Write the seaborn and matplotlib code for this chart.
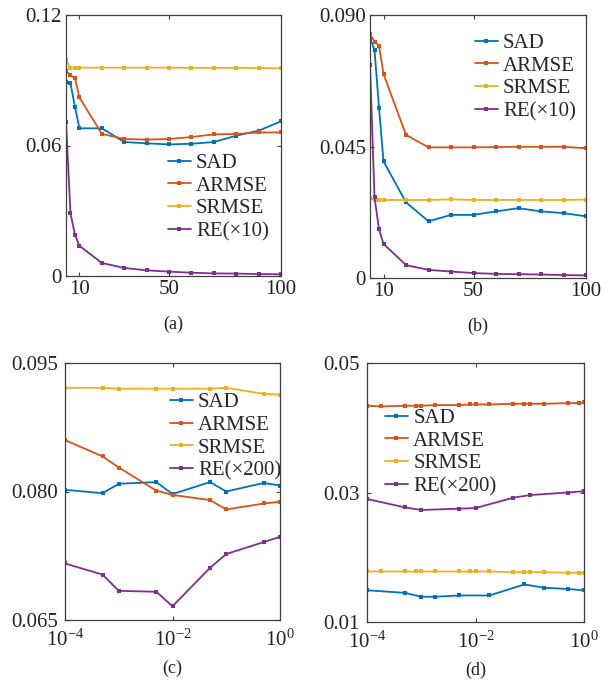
import numpy as np
import pandas as pd
import matplotlib
matplotlib.use("Agg")
import matplotlib.pyplot as plt
import seaborn as sns

# series labels and colours (MATLAB default order)
names = ["SAD", "ARMSE", "SRMSE"]
colors = ["#0072BD", "#D95319", "#EDB120", "#7E2F8E"]

# (a) / (b): number of ... on a linear axis
ab_x = [4, 6, 8, 10, 20, 30, 40, 50, 60, 70, 80, 90, 100]
a_sad = [0.0893, 0.0886, 0.0778, 0.0679, 0.0679, 0.0616, 0.0610, 0.0605, 0.0608, 0.0616, 0.0645, 0.0668, 0.0711]
a_armse = [0.0944, 0.0923, 0.0909, 0.0821, 0.0653, 0.0630, 0.0627, 0.0630, 0.0639, 0.0651, 0.0653, 0.0660, 0.0660]
a_srmse = [0.0993, 0.0958, 0.0958, 0.0958, 0.0958, 0.0958, 0.0958, 0.0958, 0.0957, 0.0957, 0.0957, 0.0956, 0.0955]
a_re = [0.0707, 0.0288, 0.0189, 0.0139, 0.0060, 0.0037, 0.0026, 0.0020, 0.0015, 0.0012, 0.0011, 0.0009, 0.0008]

b_sad = [0.0822, 0.0780, 0.0583, 0.0399, 0.0259, 0.0194, 0.0216, 0.0216, 0.0228, 0.0239, 0.0228, 0.0222, 0.0211]
b_armse = [0.0835, 0.0809, 0.0795, 0.0698, 0.0490, 0.0447, 0.0447, 0.0447, 0.0448, 0.0449, 0.0449, 0.0449, 0.0444]
b_srmse = [0.0273, 0.0268, 0.0267, 0.0267, 0.0267, 0.0267, 0.0269, 0.0267, 0.0267, 0.0267, 0.0267, 0.0267, 0.0268]
b_re = [0.0729, 0.0277, 0.0167, 0.0117, 0.0044, 0.0028, 0.0022, 0.0017, 0.0014, 0.0013, 0.0012, 0.0010, 0.0009]

# (c): log axis
c_x = [1e-4, 5e-4, 1e-3, 5e-3, 1e-2, 5e-2, 1e-1, 5e-1, 1]
c_sad = [0.0802, 0.0798, 0.0809, 0.0811, 0.0797, 0.0811, 0.0800, 0.0810, 0.0807]
c_armse = [0.0860, 0.0841, 0.0828, 0.0801, 0.0796, 0.0790, 0.0779, 0.0786, 0.0788]
c_srmse = [0.0921, 0.0921, 0.0920, 0.0920, 0.0920, 0.0920, 0.0921, 0.0914, 0.0913]
c_re = [0.0716, 0.0703, 0.0684, 0.0683, 0.0666, 0.0711, 0.0727, 0.0741, 0.0747]

# (d): log axis, denser grid for ARMSE / SRMSE
d_x = [1e-4, 1.8e-4, 5e-4, 8e-4, 1e-3, 1.8e-3, 5e-3, 8e-3, 1e-2, 1.8e-2,
       5e-2, 8e-2, 1e-1, 1.8e-1, 5e-1, 8e-1, 1]
d_armse = [0.0434, 0.0433, 0.0434, 0.0434, 0.0434, 0.0435, 0.0435, 0.0436, 0.0436, 0.0436,
           0.0437, 0.0437, 0.0437, 0.0437, 0.0438, 0.0438, 0.0439]
d_srmse = [0.0178, 0.0178, 0.0178, 0.0178, 0.0178, 0.0178, 0.0178, 0.0178, 0.0178, 0.0178,
           0.0177, 0.0177, 0.0177, 0.0177, 0.0176, 0.0176, 0.0176]
d_sad_x = [1e-4, 5e-4, 1e-3, 1.8e-3, 5e-3, 1.8e-2, 8e-2, 1.8e-1, 5e-1, 1]
d_sad = [0.0149, 0.0145, 0.0139, 0.0139, 0.0141, 0.0141, 0.0158, 0.0153, 0.0151, 0.0149]
d_re_x = [1e-4, 5e-4, 1e-3, 5e-3, 1e-2, 5e-2, 1e-1, 5e-1, 1]
d_re = [0.0290, 0.0277, 0.0273, 0.0275, 0.0276, 0.0292, 0.0296, 0.0300, 0.0302]

sns.set_style("ticks")
plt.rcParams["font.family"] = ["Liberation Serif", "DejaVu Serif"]
plt.rcParams["mathtext.fontset"] = "custom"
plt.rcParams["mathtext.rm"] = "Liberation Serif"
plt.rcParams["mathtext.it"] = "Liberation Serif:italic"

fig = plt.figure(figsize=(6.13, 6.89), dpi=100)
fig.patch.set_facecolor("white")

W, H = 613, 689


def box(l, t, r, b):
    return [l / W, 1 - b / H, (r - l) / W, (b - t) / H]


panels = [
    dict(pos=box(66, 15, 281, 276), log=False,
         series=[(ab_x, a_sad), (ab_x, a_armse), (ab_x, a_srmse), (ab_x, a_re)],
         re="RE(×10)", ylim=(0, 0.12), yticks=[0, 0.06, 0.12], ylabels=["0", "0.06", "0.12"],
         leg=(0.474, 0.47), tag="(a)"),
    dict(pos=box(370, 15, 586, 278), log=False,
         series=[(ab_x, b_sad), (ab_x, b_armse), (ab_x, b_srmse), (ab_x, b_re)],
         re="RE(×10)", ylim=(0, 0.09), yticks=[0, 0.045, 0.09], ylabels=["0", "0.045", "0.090"],
         leg=(0.486, 0.93), tag="(b)"),
    dict(pos=box(65, 363, 280, 620), log=True,
         series=[(c_x, c_sad), (c_x, c_armse), (c_x, c_srmse), (c_x, c_re)],
         re="RE(×200)", ylim=(0.065, 0.095), yticks=[0.065, 0.08, 0.095],
         ylabels=["0.065", "0.080", "0.095"], leg=(0.488, 0.885), tag="(c)"),
    dict(pos=box(367, 363, 584, 622), log=True,
         series=[(d_sad_x, d_sad), (d_x, d_armse), (d_x, d_srmse), (d_re_x, d_re)],
         re="RE(×200)", ylim=(0.01, 0.05), yticks=[0.01, 0.03, 0.05],
         ylabels=["0.01", "0.03", "0.05"], leg=(0.083, 0.825), tag="(d)"),
]

for p in panels:
    ax = fig.add_axes(p["pos"])
    labels = names + [p["re"]]
    for (xs, ys), lab, col in zip(p["series"], labels, colors):
        df = pd.DataFrame({"x": xs, "y": ys})
        sns.lineplot(data=df, x="x", y="y", ax=ax, color=col, lw=1.3,
                     marker="s", markersize=2.5, markeredgewidth=0, label=lab)
    if p["log"]:
        ax.set_xscale("log")
        ax.set_xlim(1e-4, 1)
        ax.set_xticks([1e-4, 1e-2, 1])
        ax.minorticks_off()
    else:
        ax.set_xlim(4, 100)
        ax.set_xticks([10, 50, 100])
    ax.set_ylim(*p["ylim"])
    ax.set_yticks(p["yticks"])
    ax.set_yticklabels(p["ylabels"])
    ax.set_xlabel("")
    ax.set_ylabel("")
    ax.tick_params(direction="in", length=3, width=0.8, colors="#404040",
                   labelcolor="#222222", labelsize=15, top=True, right=True, pad=3)
    if p["log"]:
        ax.tick_params(axis="x", pad=7)
        ax.tick_params(axis="y", pad=5)
    for s in ax.spines.values():
        s.set_color("#404040")
        s.set_linewidth(0.9)
    ax.legend(loc="upper left", bbox_to_anchor=p["leg"], frameon=False, fontsize=15,
              handlelength=1.1, handletextpad=0.25, labelspacing=0.15,
              borderpad=0, borderaxespad=0)
    l, b, w, h = p["pos"]
    fig.text(l + w / 2, b - 48 / H, p["tag"], ha="center", va="center", fontsize=13,
             color="#222222")

fig.savefig("out.png", dpi=100)
